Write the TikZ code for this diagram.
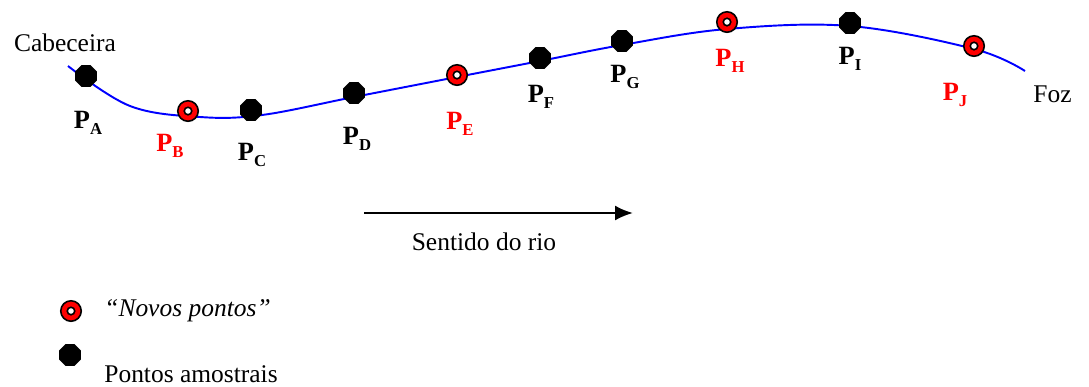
\documentclass[tikz,border=0pt]{standalone}
\usepackage{fontspec}
\setmainfont{Liberation Serif}
\usetikzlibrary{shapes.geometric,arrows.meta}
\tikzset{
  amostra/.style={regular polygon, regular polygon sides=8, fill=black, minimum size=0.47cm, inner sep=0pt},
  novo/.style={circle, draw=black, line width=0.9pt, fill=red, minimum size=0.41cm, inner sep=0pt,
    path picture={\draw[line width=0.9pt, fill=white] (path picture bounding box.center) circle (0.075cm);}},
  rotulo/.style={font=\fontsize{15}{16}\selectfont\bfseries, inner sep=0pt},
  novorotulo/.style={rotulo, text=red},
  texto/.style={font=\fontsize{14.5}{17}\selectfont, inner sep=0pt},
  rio/.style={blue, line width=1.1pt},
  sentido/.style={line width=1.2pt, -{Latex[length=0.36cm, width=0.3cm]}}
}
\newcommand{\ponto}[1]{P\raisebox{-0.45ex}{\fontsize{9.5}{10}\selectfont #1}}

\begin{document}
\begin{tikzpicture}[x=0.02cm, y=-0.02cm]
  \useasboundingbox (0,0) rectangle (1089,386);

  % curso do rio
  \coordinate (r0) at (68,66);
  \coordinate (r1) at (130,106);
  \coordinate (r2) at (200,117);
  \coordinate (r3) at (262,115);
  \coordinate (r4) at (354,97);
  \coordinate (r5) at (457,77);
  \coordinate (r6) at (540,61);
  \coordinate (r7) at (622,45);
  \coordinate (r8) at (727,29);
  \coordinate (r9) at (850,26);
  \coordinate (r10) at (974,49);
  \coordinate (r11) at (1025,71);
  \draw[rio] plot[smooth, tension=0.6] coordinates {(r0) (r1) (r2) (r3) (r4) (r5) (r6) (r7) (r8) (r9) (r10) (r11)};

  \node[texto] (cab) at (65,43) {Cabeceira};
  \node[texto, anchor=west] (foz) at (1033,94) {Foz};

  % pontos
  \node[amostra] (pa) at (86,76) {};
  \node[novo] (pb) at (188,111) {};
  \node[amostra] (pc) at (251,110) {};
  \node[amostra] (pd) at (354,93) {};
  \node[novo] (pe) at (457,75) {};
  \node[amostra] (pf) at (540,58) {};
  \node[amostra] (pg) at (622,41) {};
  \node[novo] (ph) at (727,22) {};
  \node[amostra] (pi) at (850,23) {};
  \node[novo] (pj) at (974,46) {};

  \node[rotulo] (la) at (88,123) {\ponto{A}};
  \node[novorotulo] (lb) at (170,146) {\ponto{B}};
  \node[rotulo] (lc) at (252,155) {\ponto{C}};
  \node[rotulo] (ld) at (357,139) {\ponto{D}};
  \node[novorotulo] (le) at (460,124) {\ponto{E}};
  \node[rotulo] (lf) at (541,97) {\ponto{F}};
  \node[rotulo] (lg) at (625,77) {\ponto{G}};
  \node[novorotulo] (lh) at (730,61) {\ponto{H}};
  \node[rotulo] (li) at (850,59) {\ponto{I}};
  \node[novorotulo] (lj) at (955,95) {\ponto{J}};

  % sentido
  \coordinate (ini) at (364,213);
  \coordinate (fim) at (633,213);
  \draw[sentido] (ini) -- (fim);
  \node[texto] (sent) at (484,242) {Sentido do rio};

  % legenda
  \node[novo] (lnovo) at (71,311) {};
  \node[texto, anchor=west] (tnovo) at (104,311) {\itshape ``Novos pontos''};
  \node[amostra] (lamo) at (70,355) {};
  \node[texto, anchor=west] (tamo) at (104,374) {Pontos amostrais};
\end{tikzpicture}
\end{document}
